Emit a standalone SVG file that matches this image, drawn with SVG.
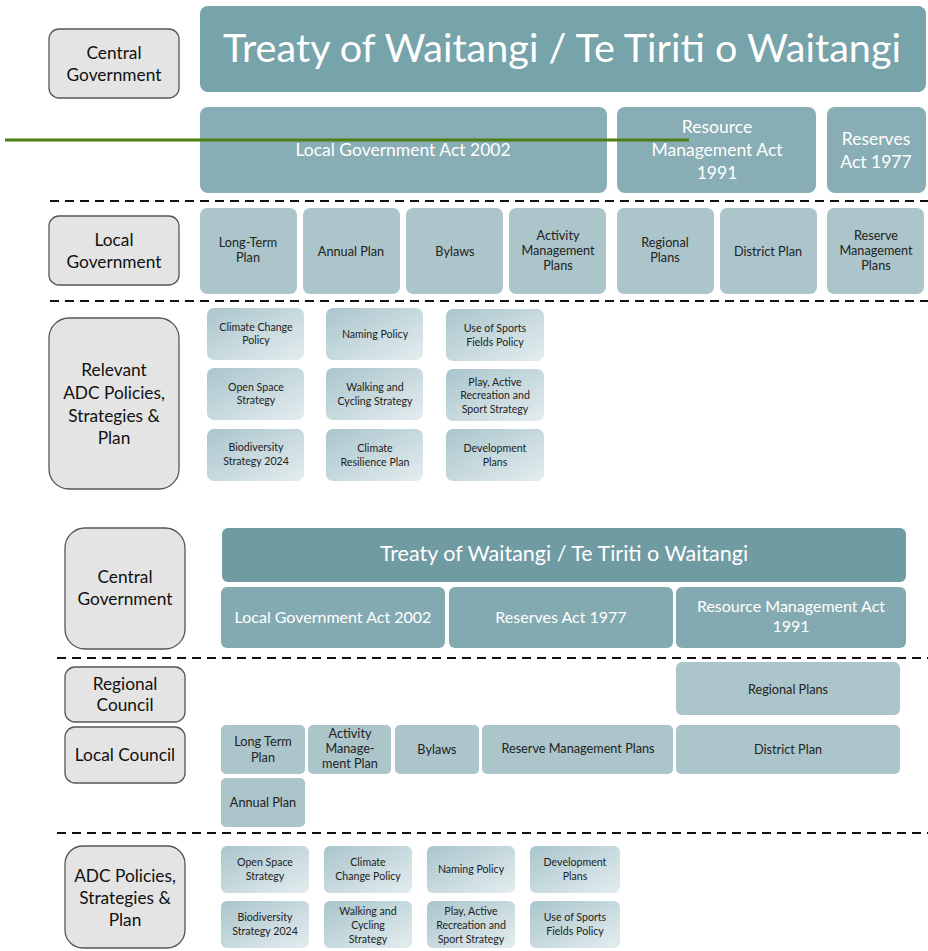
<svg xmlns="http://www.w3.org/2000/svg" width="928" height="951" viewBox="0 0 928 951">
<defs>
<linearGradient id="g" x1="0" y1="0" x2="1" y2="1">
<stop offset="0" stop-color="#a9c5cc"/>
<stop offset="1" stop-color="#e4edef"/>
</linearGradient>
<style>
text{font-family:Lato,"Open Sans","Liberation Sans",sans-serif;text-anchor:middle}
.lab rect{fill:#e4e4e4;stroke:#555;stroke-width:1.3}
.lab text{fill:#111;font-size:17.3px}
.t1 rect{fill:#77a3aa}
.t2 rect{fill:#88adb4}
.t3 rect{fill:#abc5ca}
.gr rect{fill:url(#g)}
.w{fill:#fff}
.k{fill:#222;font-size:12.7px}
.s{fill:#222;font-size:10.6px}
.dash{stroke:#111;stroke-width:2;stroke-dasharray:9,6;fill:none}
</style>
</defs>
<rect width="928" height="951" fill="#fff"/>

<!-- TOP SECTION -->
<g id="lab-central1" class="lab"><rect x="49" y="29" width="130" height="69" rx="10"/><text x="114" y="59">Central</text><text x="114" y="81">Government</text></g>
<g id="treaty1" class="t1"><rect x="200" y="6" width="726" height="86" rx="8"/><text class="w" x="562" y="62" font-size="39" textLength="678" lengthAdjust="spacingAndGlyphs">Treaty of Waitangi / Te Tiriti o Waitangi</text></g>
<g id="lga1" class="t2"><rect x="200" y="107" width="407" height="86" rx="8"/><text class="w" x="403" y="156" font-size="17.5">Local Government Act 2002</text></g>
<g id="rma1" class="t2"><rect x="617" y="107" width="199" height="86" rx="8"/><text class="w" x="717" y="133" font-size="17.5">Resource</text><text class="w" x="717" y="156" font-size="17.5">Management Act</text><text class="w" x="717" y="179" font-size="17.5">1991</text></g>
<g id="ra1" class="t2"><rect x="827" y="107" width="99" height="86" rx="8"/><text class="w" x="876" y="145" font-size="17.5">Reserves</text><text class="w" x="876" y="168" font-size="17.5">Act 1977</text></g>

<g id="lab-local1" class="lab"><rect x="49" y="216" width="130" height="69" rx="10"/><text x="114" y="246">Local</text><text x="114" y="268">Government</text></g>
<g id="ltp1" class="t3"><rect x="200" y="208" width="97" height="86" rx="7"/><text class="k" x="248" y="247">Long-Term</text><text class="k" x="248" y="262">Plan</text></g>
<g id="ap1" class="t3"><rect x="303" y="208" width="97" height="86" rx="7"/><text class="k" x="351" y="256">Annual Plan</text></g>
<g id="by1" class="t3"><rect x="406" y="208" width="97" height="86" rx="7"/><text class="k" x="455" y="256">Bylaws</text></g>
<g id="amp1" class="t3"><rect x="509" y="208" width="97" height="86" rx="7"/><text class="k" x="558" y="240">Activity</text><text class="k" x="558" y="255">Management</text><text class="k" x="558" y="270">Plans</text></g>
<g id="rp1" class="t3"><rect x="617" y="208" width="97" height="86" rx="7"/><text class="k" x="665" y="247">Regional</text><text class="k" x="665" y="262">Plans</text></g>
<g id="dp1" class="t3"><rect x="720" y="208" width="97" height="86" rx="7"/><text class="k" x="768" y="256">District Plan</text></g>
<g id="rmp1" class="t3"><rect x="827" y="208" width="97" height="86" rx="7"/><text class="k" x="876" y="240">Reserve</text><text class="k" x="876" y="255">Management</text><text class="k" x="876" y="270">Plans</text></g>

<g id="lab-adc1" class="lab"><rect x="49" y="318" width="130" height="171" rx="20"/><text x="114" y="376">Relevant</text><text x="114" y="399">ADC Policies,</text><text x="114" y="422">Strategies &amp;</text><text x="114" y="444">Plan</text></g>
<g id="ccp1" class="gr"><rect x="207" y="308" width="97" height="52" rx="7"/><text class="s" x="256" y="331">Climate Change</text><text class="s" x="256" y="344">Policy</text></g>
<g id="osp1" class="gr"><rect x="207" y="368" width="97" height="52" rx="7"/><text class="s" x="256" y="391">Open Space</text><text class="s" x="256" y="404">Strategy</text></g>
<g id="bio1" class="gr"><rect x="207" y="429" width="97" height="52" rx="7"/><text class="s" x="256" y="451">Biodiversity</text><text class="s" x="256" y="465">Strategy 2024</text></g>
<g id="np1" class="gr"><rect x="326" y="308" width="97" height="52" rx="7"/><text class="s" x="375" y="338">Naming Policy</text></g>
<g id="wcs1" class="gr"><rect x="326" y="368" width="97" height="52" rx="7"/><text class="s" x="375" y="391">Walking and</text><text class="s" x="375" y="405">Cycling Strategy</text></g>
<g id="crp1" class="gr"><rect x="326" y="429" width="97" height="52" rx="7"/><text class="s" x="375" y="452">Climate</text><text class="s" x="375" y="466">Resilience Plan</text></g>
<g id="usf1" class="gr"><rect x="446" y="309" width="98" height="52" rx="7"/><text class="s" x="495" y="332">Use of Sports</text><text class="s" x="495" y="346">Fields Policy</text></g>
<g id="par1" class="gr"><rect x="446" y="369" width="98" height="52" rx="7"/><text class="s" x="495" y="386">Play, Active</text><text class="s" x="495" y="399">Recreation and</text><text class="s" x="495" y="413">Sport Strategy</text></g>
<g id="dev1" class="gr"><rect x="446" y="429" width="98" height="52" rx="7"/><text class="s" x="495" y="452">Development</text><text class="s" x="495" y="466">Plans</text></g>

<!-- BOTTOM SECTION -->
<g id="lab-central2" class="lab"><rect x="65" y="528" width="120" height="121" rx="20"/><text x="125" y="583">Central</text><text x="125" y="605">Government</text></g>
<g id="treaty2"><rect x="222" y="528" width="684" height="54" rx="6" fill="#709ba3"/><text class="w" x="564" y="561" font-size="21.5">Treaty of Waitangi / Te Tiriti o Waitangi</text></g>
<g id="lga2"><rect x="221" y="587" width="224" height="61" rx="6" fill="#84aab1"/><text class="w" x="333" y="623" font-size="16">Local Government Act 2002</text></g>
<g id="ra2"><rect x="449" y="587" width="224" height="61" rx="6" fill="#84aab1"/><text class="w" x="561" y="623" font-size="16">Reserves Act 1977</text></g>
<g id="rma2"><rect x="676" y="587" width="230" height="61" rx="6" fill="#84aab1"/><text class="w" x="791" y="612" font-size="16">Resource Management Act</text><text class="w" x="791" y="632" font-size="16">1991</text></g>

<g id="lab-regional2" class="lab"><rect x="65" y="667" width="120" height="55" rx="10"/><text x="125" y="690">Regional</text><text x="125" y="711">Council</text></g>
<g id="lab-local2" class="lab"><rect x="65" y="727" width="120" height="56" rx="10"/><text x="125" y="761">Local Council</text></g>
<g id="rp2" class="t3"><rect x="676" y="662" width="224" height="53" rx="6"/><text class="k" x="788" y="694">Regional Plans</text></g>
<g id="ltp2" class="t3"><rect x="221" y="725" width="84" height="49" rx="5"/><text class="k" x="263" y="746">Long Term</text><text class="k" x="263" y="762">Plan</text></g>
<g id="amp2" class="t3"><rect x="308" y="725" width="83" height="49" rx="5"/><text class="k" x="350" y="738">Activity</text><text class="k" x="350" y="753">Manage-</text><text class="k" x="350" y="768">ment Plan</text></g>
<g id="by2" class="t3"><rect x="395" y="725" width="84" height="49" rx="5"/><text class="k" x="437" y="754">Bylaws</text></g>
<g id="rmp2" class="t3"><rect x="482" y="725" width="191" height="49" rx="5"/><text class="k" x="578" y="753">Reserve Management Plans</text></g>
<g id="dp2" class="t3"><rect x="676" y="725" width="224" height="49" rx="5"/><text class="k" x="788" y="754">District Plan</text></g>
<g id="ap2" class="t3"><rect x="221" y="778" width="84" height="49" rx="5"/><text class="k" x="263" y="807">Annual Plan</text></g>

<g id="lab-adc2" class="lab"><rect x="65" y="846" width="120" height="102" rx="18"/><text x="125" y="882">ADC Policies,</text><text x="125" y="904">Strategies &amp;</text><text x="125" y="926">Plan</text></g>
<g id="osp2" class="gr"><rect x="221" y="846" width="88" height="47" rx="6"/><text class="s" x="265" y="866">Open Space</text><text class="s" x="265" y="880">Strategy</text></g>
<g id="bio2" class="gr"><rect x="221" y="901" width="88" height="47" rx="6"/><text class="s" x="265" y="921">Biodiversity</text><text class="s" x="265" y="935">Strategy 2024</text></g>
<g id="ccp2" class="gr"><rect x="324" y="846" width="88" height="47" rx="6"/><text class="s" x="368" y="866">Climate</text><text class="s" x="368" y="880">Change Policy</text></g>
<g id="wcs2" class="gr"><rect x="324" y="901" width="88" height="47" rx="6"/><text class="s" x="368" y="915">Walking and</text><text class="s" x="368" y="929">Cycling</text><text class="s" x="368" y="943">Strategy</text></g>
<g id="np2" class="gr"><rect x="427" y="846" width="88" height="47" rx="6"/><text class="s" x="471" y="873">Naming Policy</text></g>
<g id="par2" class="gr"><rect x="427" y="901" width="88" height="47" rx="6"/><text class="s" x="471" y="915">Play, Active</text><text class="s" x="471" y="929">Recreation and</text><text class="s" x="471" y="943">Sport Strategy</text></g>
<g id="dev2" class="gr"><rect x="530" y="846" width="90" height="47" rx="6"/><text class="s" x="575" y="866">Development</text><text class="s" x="575" y="880">Plans</text></g>
<g id="usf2" class="gr"><rect x="530" y="901" width="90" height="47" rx="6"/><text class="s" x="575" y="921">Use of Sports</text><text class="s" x="575" y="935">Fields Policy</text></g>

<!-- connectors / separators -->
<g id="connectors">
<line class="dash" x1="50" y1="201" x2="928" y2="201"/>
<line class="dash" x1="50" y1="301" x2="928" y2="301"/>
<line class="dash" x1="57" y1="658" x2="928" y2="658"/>
<line class="dash" x1="57" y1="833" x2="928" y2="833"/>
<line x1="5" y1="140" x2="689" y2="140" stroke="#4e7f12" stroke-width="3"/>
</g>
</svg>
